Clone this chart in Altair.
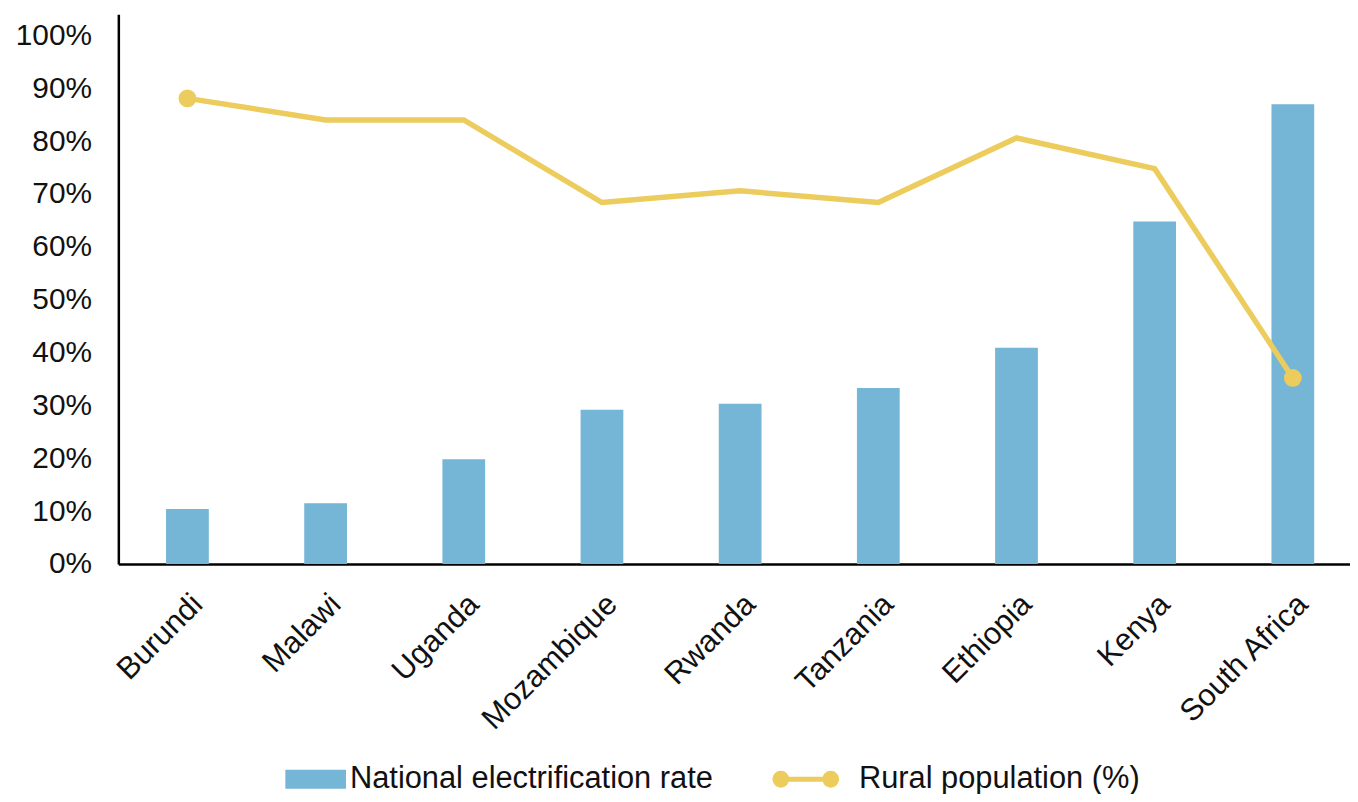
import altair as alt
import pandas as pd

countries = ["Burundi", "Malawi", "Uganda", "Mozambique", "Rwanda",
             "Tanzania", "Ethiopia", "Kenya", "South Africa"]
electrification = [10.4, 11.5, 19.8, 29.2, 30.3, 33.3, 40.9, 64.8, 87.0]
rural = [88.1, 84.0, 84.0, 68.4, 70.6, 68.4, 80.6, 74.8, 35.2]
y_ticks = [0, 10, 20, 30, 40, 50, 60, 70, 80, 90, 100]
series_bar = "National electrification rate"
series_line = "Rural population (%)"

BLUE = "#75B5D5"
GOLD = "#ECCC5C"
FONT = "Liberation Sans"

df = pd.DataFrame({
    "country": countries,
    "electrification": electrification,
    "rural": rural,
    "s1": series_bar,
    "s2": series_line,
})
ends = [countries[0], countries[-1]]

x = alt.X(
    "country:N", sort=countries,
    scale=alt.Scale(paddingInner=0, paddingOuter=0),
    axis=alt.Axis(title=None, labelAngle=-45, labelAlign="right", labelBaseline="top",
                  labelFontSize=31, labelColor="#111111", ticks=False, tickSize=0,
                  domainColor="black", domainWidth=2.5, labelPadding=25),
)
y_scale = alt.Scale(domain=[0, 104], nice=False)
y_axis = alt.Axis(title=None, values=y_ticks, labelExpr="datum.value + '%'",
                  grid=False, ticks=False, tickSize=0, domainColor="black",
                  domainWidth=2.5, labelFontSize=30, labelColor="#111111",
                  labelPadding=27)

bars = alt.Chart(df).mark_bar(size=43).encode(
    x=x,
    y=alt.Y("electrification:Q", scale=y_scale, axis=y_axis),
    fill=alt.Fill("s1:N", scale=alt.Scale(range=[BLUE]),
                  legend=alt.Legend(title=None, orient="none", legendX=168, legendY=739,
                                    padding=0, labelLimit=600,
                                    symbolType="M-1,-0.31H1V0.31H-1Z", symbolSize=3721,
                                    symbolStrokeWidth=0, labelFontSize=31,
                                    labelColor="#111111", labelOffset=4)),
)

line_symbol = ("M-0.94,0A0.18,0.18 0 1,1 -0.58,0A0.18,0.18 0 1,1 -0.94,0Z "
               "M0.58,0A0.18,0.18 0 1,1 0.94,0A0.18,0.18 0 1,1 0.58,0Z "
               "M-0.76,0L0.76,0")

line = alt.Chart(df).mark_line(strokeWidth=5.5).encode(
    x=x,
    y=alt.Y("rural:Q", scale=y_scale, axis=y_axis),
    stroke=alt.Stroke("s2:N", scale=alt.Scale(range=[GOLD]),
                      legend=alt.Legend(title=None, orient="none", legendX=656, legendY=734,
                                        padding=0, labelLimit=600,
                                        symbolType=line_symbol, symbolSize=4356,
                                        symbolStrokeWidth=5, symbolFillColor=GOLD,
                                        labelFontSize=31, labelColor="#111111",
                                        labelOffset=18)),
)

points = alt.Chart(df).transform_filter(
    alt.FieldOneOfPredicate(field="country", oneOf=ends)
).mark_circle(size=320, opacity=1, color=GOLD).encode(
    x=x,
    y=alt.Y("rural:Q", scale=y_scale, axis=y_axis),
)

chart = alt.layer(bars, line, points).resolve_scale(fill="independent", stroke="independent").properties(
    width=1251, height=553,
    autosize=alt.AutoSizeParams(type="none"),
    padding={"left": 111, "top": 4, "right": -12, "bottom": 229},
).configure(font=FONT).configure_view(stroke=None)

chart.save("out.html", embed_options={"renderer": "svg", "actions": False})
